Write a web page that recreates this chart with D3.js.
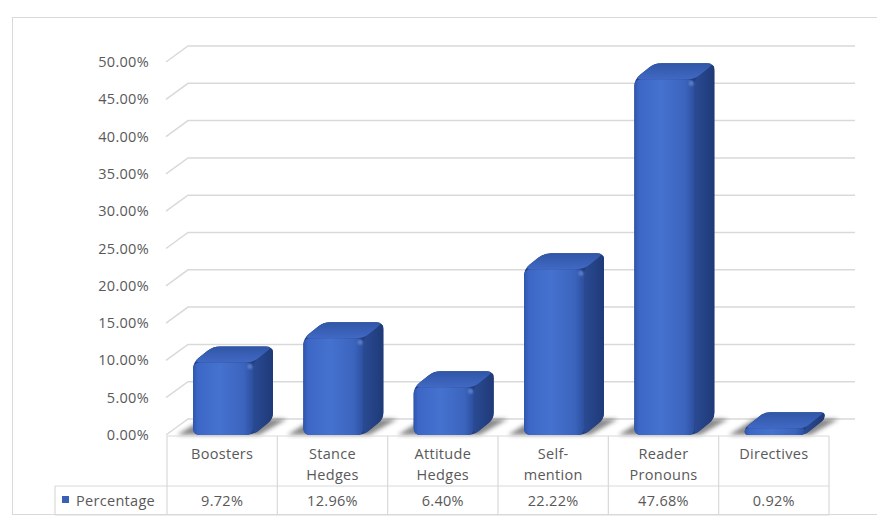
<!DOCTYPE html>
<html>
<head>
<meta charset="utf-8">
<script src="https://cdn.jsdelivr.net/npm/d3@7"></script>
<style>
  html, body { margin: 0; padding: 0; background: #ffffff; }
  svg { display: block; }
  text { font-family: "Open Sans", "Lato", sans-serif; fill: #595959; letter-spacing: 0.3px; }
</style>
</head>
<body>
<svg id="chart" width="877" height="523"></svg>
<script>
// Interactional metadiscourse markers, share of all markers
const categories = ["Boosters", "Stance\nHedges", "Attitude\nHedges", "Self-\nmention", "Reader\nPronouns", "Directives"];
const values = [9.72, 12.96, 6.40, 22.22, 47.68, 0.92];
const seriesName = "Percentage";
const yTicks = [0, 5, 10, 15, 20, 25, 30, 35, 40, 45, 50];

const svg = d3.select("#chart");
const defs = svg.append("defs");

// layout of the 3D plot and data table
const plot = { left: 167, right: 829, floor: 435, top: 62 };
const depth = { dx: 22, dy: -16 };   // back wall offset
const barDepth = { dx: 20, dy: -16 };
const table = { left: 55, top: 436, mid: 486, bottom: 515 };
const fontSize = 14.5;

const x = d3.scaleBand().domain(categories).range([plot.left, plot.right]).paddingInner(0).paddingOuter(0);
const y = d3.scaleLinear().domain([0, 50]).range([plot.floor, plot.top]);
const fmt = d3.format(".2%");

// chart frame
svg.append("rect")
  .attr("x", 12.5).attr("y", 17.5).attr("width", 880).attr("height", 497)
  .attr("fill", "#ffffff").attr("stroke", "#d9d9d9").attr("stroke-width", 1);

// gradients
const gFront = defs.append("linearGradient").attr("id", "front").attr("x1", 0).attr("x2", 1).attr("y1", 0).attr("y2", 0);
[[0, "#2f56ad"], [0.08, "#3d67c6"], [0.45, "#4572cf"], [0.85, "#3b64bd"], [1, "#2d4f9e"]]
  .forEach(([o, c]) => gFront.append("stop").attr("offset", o).attr("stop-color", c));
const gSide = defs.append("linearGradient").attr("id", "side").attr("x1", 0).attr("x2", 1).attr("y1", 0).attr("y2", 0);
[[0, "#2a4a92"], [1, "#1f3a78"]]
  .forEach(([o, c]) => gSide.append("stop").attr("offset", o).attr("stop-color", c));
const gTop = defs.append("linearGradient").attr("id", "top").attr("x1", 0).attr("x2", 0).attr("y1", 1).attr("y2", 0);
[[0, "#4169c4"], [1, "#3056a6"]]
  .forEach(([o, c]) => gTop.append("stop").attr("offset", o).attr("stop-color", c));
defs.append("filter").attr("id", "soft").attr("x", "-50%").attr("y", "-50%").attr("width", "200%").attr("height", "200%")
  .append("feGaussianBlur").attr("stdDeviation", 2.2);
defs.append("filter").attr("id", "blur1").attr("x", "-50%").attr("y", "-50%").attr("width", "200%").attr("height", "200%")
  .append("feGaussianBlur").attr("stdDeviation", 0.8);

// gridlines: side wall diagonal + back wall horizontal
const grid = svg.append("g").attr("stroke", "#d9d9d9").attr("stroke-width", 1.5).attr("fill", "none");
yTicks.forEach(t => {
  const fy = y(t);
  grid.append("path").attr("d", d3.line()([[plot.left - 1, fy], [plot.left - 1 + depth.dx, fy + depth.dy], [855, fy + depth.dy]]));
});

// y-axis labels
svg.append("g").selectAll("text").data(yTicks).join("text")
  .attr("x", 149).attr("y", d => y(d)).attr("dy", "0.35em")
  .attr("text-anchor", "end").attr("font-size", fontSize)
  .text(d => fmt(d / 100));

// rounded polygon helper
function roundedPoly(pts, r) {
  const n = pts.length;
  let d = "";
  for (let i = 0; i < n; i++) {
    const p0 = pts[(i - 1 + n) % n], p1 = pts[i], p2 = pts[(i + 1) % n];
    const v1 = [p0[0] - p1[0], p0[1] - p1[1]], v2 = [p2[0] - p1[0], p2[1] - p1[1]];
    const l1 = Math.hypot(...v1), l2 = Math.hypot(...v2);
    const rr = Math.min(r, l1 / 2, l2 / 2);
    const a = [p1[0] + v1[0] / l1 * rr, p1[1] + v1[1] / l1 * rr];
    const b = [p1[0] + v2[0] / l2 * rr, p1[1] + v2[1] / l2 * rr];
    d += (i === 0 ? "M" : "L") + a[0] + "," + a[1] + "Q" + p1[0] + "," + p1[1] + " " + b[0] + "," + b[1];
  }
  return d + "Z";
}

const bars = svg.append("g");
categories.forEach((c, i) => {
  const v = values[i];
  const x0 = x(c) + 26, x1 = x0 + 60;
  const yb = plot.floor, yt = y(v);
  const { dx, dy } = barDepth;
  const g = bars.append("g");
  // floor shadow
  g.append("path")
    .attr("d", d3.line()([[x0 - 16, yb], [x1 + 6, yb], [x1 + dx + 14, yb + dy], [x0 + dx - 10, yb + dy]]))
    .attr("fill", "#2b2b2b").attr("opacity", 0.55).attr("filter", "url(#soft)");
  // silhouette
  const r = Math.min(7, (yb - yt) / 2 + 2);
  g.append("path")
    .attr("d", roundedPoly([[x0, yb], [x0, yt], [x0 + dx, yt + dy], [x1 + dx, yt + dy], [x1 + dx, yb + dy], [x1, yb]], r))
    .attr("fill", "#233f82");
  // side face
  g.append("path")
    .attr("d", roundedPoly([[x1, yt], [x1 + dx, yt + dy], [x1 + dx, yb + dy], [x1, yb]], Math.min(6, r)))
    .attr("fill", "url(#side)");
  // top face
  g.append("path")
    .attr("d", roundedPoly([[x0, yt], [x0 + dx, yt + dy], [x1 + dx, yt + dy], [x1, yt]], Math.min(7, r)))
    .attr("fill", "url(#top)");
  // front face
  g.append("rect")
    .attr("x", x0).attr("y", yt).attr("width", x1 - x0).attr("height", yb - yt)
    .attr("rx", Math.min(6, (yb - yt) / 2)).attr("fill", "url(#front)");
  // bevel highlights
  if (yb - yt > 12) {
    g.append("path")
      .attr("d", d3.line()([[x0 + 6, yt + 1.5], [x1 - 6, yt + 1.5]]))
      .attr("stroke", "#6f95e0").attr("stroke-width", 2).attr("opacity", 0.5).attr("filter", "url(#blur1)");
    g.append("path")
      .attr("d", d3.line()([[x1 - 2, yt + 5], [x1 - 2, yb - 2]]))
      .attr("stroke", "#5a82d6").attr("stroke-width", 2).attr("opacity", 0.55).attr("filter", "url(#blur1)");
    g.append("circle").attr("cx", x1 - 3).attr("cy", yt + 4).attr("r", 2.5)
      .attr("fill", "#8fb0ee").attr("opacity", 0.45).attr("filter", "url(#blur1)");
  }
});

// data table
const tbl = svg.append("g").attr("stroke", "#d9d9d9").attr("stroke-width", 1.2).attr("fill", "none");
tbl.append("path").attr("d", d3.line()([[plot.left, table.top], [plot.right, table.top]]));
tbl.append("path").attr("d", d3.line()([[table.left, table.mid], [plot.right, table.mid]]));
tbl.append("path").attr("d", d3.line()([[table.left, table.bottom], [plot.right, table.bottom]]));
tbl.append("path").attr("d", d3.line()([[table.left, table.mid], [table.left, table.bottom]]));
categories.concat([null]).forEach((c) => {
  const xx = c === null ? plot.right : x(c);
  tbl.append("path").attr("d", d3.line()([[xx, table.top], [xx, table.bottom]]));
});

// category labels
const catG = svg.append("g");
categories.forEach(c => {
  const t = catG.append("text").attr("x", x(c) + x.bandwidth() / 2).attr("y", 459)
    .attr("text-anchor", "middle").attr("font-size", fontSize);
  c.split("\n").forEach((line, k) => {
    t.append("tspan").attr("x", x(c) + x.bandwidth() / 2).attr("dy", k === 0 ? 0 : 21).text(line);
  });
});

// value row
svg.append("g").selectAll("text").data(values).join("text")
  .attr("x", (d, i) => x(categories[i]) + x.bandwidth() / 2).attr("y", 506)
  .attr("text-anchor", "middle").attr("font-size", fontSize)
  .text(d => fmt(d / 100));

// legend key in table
svg.append("rect").attr("x", 62).attr("y", 496).attr("width", 7).attr("height", 7).attr("fill", "#3a60b5");
svg.append("text").attr("x", 76).attr("y", 506).attr("font-size", fontSize).text(seriesName);
</script>
</body>
</html>
